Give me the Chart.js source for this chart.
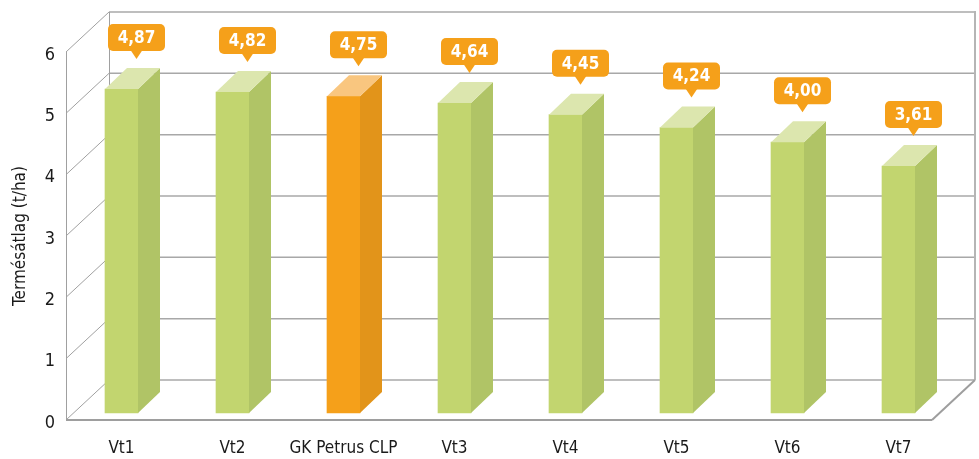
<!DOCTYPE html>
<html>
<head>
<meta charset="utf-8">
<script src="https://cdn.jsdelivr.net/npm/chart.js@4.4.0/dist/chart.umd.min.js"></script>
<style>
  html, body { margin: 0; padding: 0; background: #fff; }
</style>
</head>
<body>
<canvas id="myChart" width="979" height="459"></canvas>
<script>
// Data ---------------------------------- { Data }
const categories = ["Vt1", "Vt2", "GK Petrus CLP", "Vt3", "Vt4", "Vt5", "Vt6", "Vt7"];
const yields = [4.87, 4.82, 4.75, 4.64, 4.45, 4.24, 4.00, 3.61];
const yTicks = [0, 1, 2, 3, 4, 5, 6];
const axisTitle = "Termésátlag (t/ha)";
const highlight = "GK Petrus CLP";

const FONT = '"Liberation Sans Narrow", "DejaVu Sans Condensed", sans-serif';

// Colours for the three faces of a column
const faces = (cat) =>
  cat === highlight
    ? { front: "#f5a01a", side: "#e2941a", top: "#f9c67f" }
    : { front: "#c2d56f", side: "#b0c466", top: "#dce6ae" };

// 3D box / grid -------------------------------- { Grid }
const WALL_DX = 43, WALL_DY = -40;
const BAR_DX = 22, BAR_DY = -21;

function line(ctx, x1, y1, x2, y2) {
  ctx.beginPath();
  ctx.moveTo(x1, y1);
  ctx.lineTo(x2, y2);
  ctx.stroke();
}

const gridPlugin = {
  id: "grid3d",
  beforeDatasetsDraw(chart) {
    const ctx = chart.ctx;
    const ca = chart.chartArea;
    const ys = chart.scales.y;
    const floorRight = ca.right - 22;
    const y0 = ys.getPixelForValue(0);
    const yTop = ys.getPixelForValue(yTicks[yTicks.length - 1]);
    ctx.save();
    // back wall lines
    ctx.strokeStyle = "#a8a8a8";
    ctx.lineWidth = 1.5;
    yTicks.forEach((v) => {
      const yf = ys.getPixelForValue(v);
      line(ctx, ca.left + WALL_DX, yf + WALL_DY, floorRight + WALL_DX, yf + WALL_DY);
    });
    // side wall diagonals
    ctx.strokeStyle = "#a0a0a0";
    ctx.lineWidth = 1;
    yTicks.forEach((v) => {
      const yf = ys.getPixelForValue(v);
      line(ctx, ca.left, yf, ca.left + WALL_DX, yf + WALL_DY);
    });
    // verticals
    line(ctx, ca.left + 0.5, yTop, ca.left + 0.5, y0);
    line(ctx, ca.left + WALL_DX + 0.5, yTop + WALL_DY, ca.left + WALL_DX + 0.5, y0 + WALL_DY);
    ctx.strokeStyle = "#b5b5b5";
    ctx.lineWidth = 2;
    line(ctx, floorRight + WALL_DX, yTop + WALL_DY - 1, floorRight + WALL_DX, y0 + WALL_DY);
    // floor
    ctx.strokeStyle = "#9e9e9e";
    ctx.lineWidth = 2;
    line(ctx, ca.left, y0, floorRight, y0);
    line(ctx, floorRight, y0, floorRight + WALL_DX, y0 + WALL_DY);
    ctx.restore();
  },
  afterDatasetsDraw(chart) {
    const ctx = chart.ctx;
    const meta = chart.getDatasetMeta(0);
    ctx.save();
    meta.data.forEach((bar, i) => {
      const { x, y, base, width } = bar.getProps(["x", "y", "base", "width"], true);
      const l = x - width / 2;
      const r = x + width / 2;
      const c = faces(categories[i]);
      // side face
      ctx.fillStyle = c.side;
      ctx.beginPath();
      ctx.moveTo(r, y);
      ctx.lineTo(r + BAR_DX, y + BAR_DY);
      ctx.lineTo(r + BAR_DX, base + BAR_DY);
      ctx.lineTo(r, base);
      ctx.closePath();
      ctx.fill();
      // top face
      ctx.fillStyle = c.top;
      ctx.beginPath();
      ctx.moveTo(l, y);
      ctx.lineTo(l + BAR_DX, y + BAR_DY);
      ctx.lineTo(r + BAR_DX, y + BAR_DY);
      ctx.lineTo(r, y);
      ctx.closePath();
      ctx.fill();
      // callout label
      const cx = x + 15;
      const tip = y - 30;
      const bh = 27, bw = 57;
      const bBottom = tip - 8;
      ctx.fillStyle = "#f5a01a";
      ctx.beginPath();
      ctx.roundRect(cx - bw / 2, bBottom - bh, bw, bh, 5);
      ctx.fill();
      ctx.beginPath();
      ctx.moveTo(cx - 6, bBottom - 1);
      ctx.lineTo(cx + 6, bBottom - 1);
      ctx.lineTo(cx, tip);
      ctx.closePath();
      ctx.fill();
      ctx.fillStyle = "#ffffff";
      ctx.font = "bold 17px " + FONT;
      ctx.textAlign = "center";
      ctx.textBaseline = "middle";
      ctx.fillText(yields[i].toFixed(2).replace(".", ","), cx, bBottom - bh / 2 + 1);
    });
    ctx.restore();
  },
};

// Chart ---------------------------------- { Chart }
const ctx = document.getElementById("myChart").getContext("2d");
const myChart = new Chart(ctx, {
  type: "bar",
  data: {
    labels: categories,
    datasets: [
      {
        data: yields,
        yAxisID: "yb",
        base: -0.432,
        backgroundColor: categories.map((c) => faces(c).front),
        borderWidth: 0,
        barThickness: 33,
      },
    ],
  },
  options: {
    responsive: false,
    animation: false,
    devicePixelRatio: 1,
    layout: { padding: { top: 52, right: 25, left: 0, bottom: 0 } },
    scales: {
      x: {
        grid: { display: false, drawTicks: false },
        border: { display: false },
        ticks: {
          color: "#1a1a1a",
          font: { family: FONT, size: 17 },
          padding: 18,
          maxRotation: 0,
          minRotation: 0,
          autoSkip: false,
        },
        afterFit: (scale) => { scale.height = 39; },
      },
      y: {
        min: 0,
        max: 6,
        grid: { display: false, drawTicks: false },
        border: { display: false },
        ticks: {
          stepSize: 1,
          color: "#1a1a1a",
          font: { family: FONT, size: 18 },
          padding: 11,
          labelOffset: 3,
        },
        title: {
          display: true,
          text: axisTitle,
          color: "#1a1a1a",
          font: { family: FONT, size: 17 },
          padding: { top: 10, bottom: 0 },
        },
        afterFit: (scale) => { scale.width = 66; },
      },
      // hidden value axis the columns are measured on
      yb: {
        display: false,
        min: -0.5466,
        max: 5.476,
      },
    },
    plugins: {
      legend: { display: false },
      tooltip: { enabled: false },
    },
  },
  plugins: [gridPlugin],
});
</script>
</body>
</html>
